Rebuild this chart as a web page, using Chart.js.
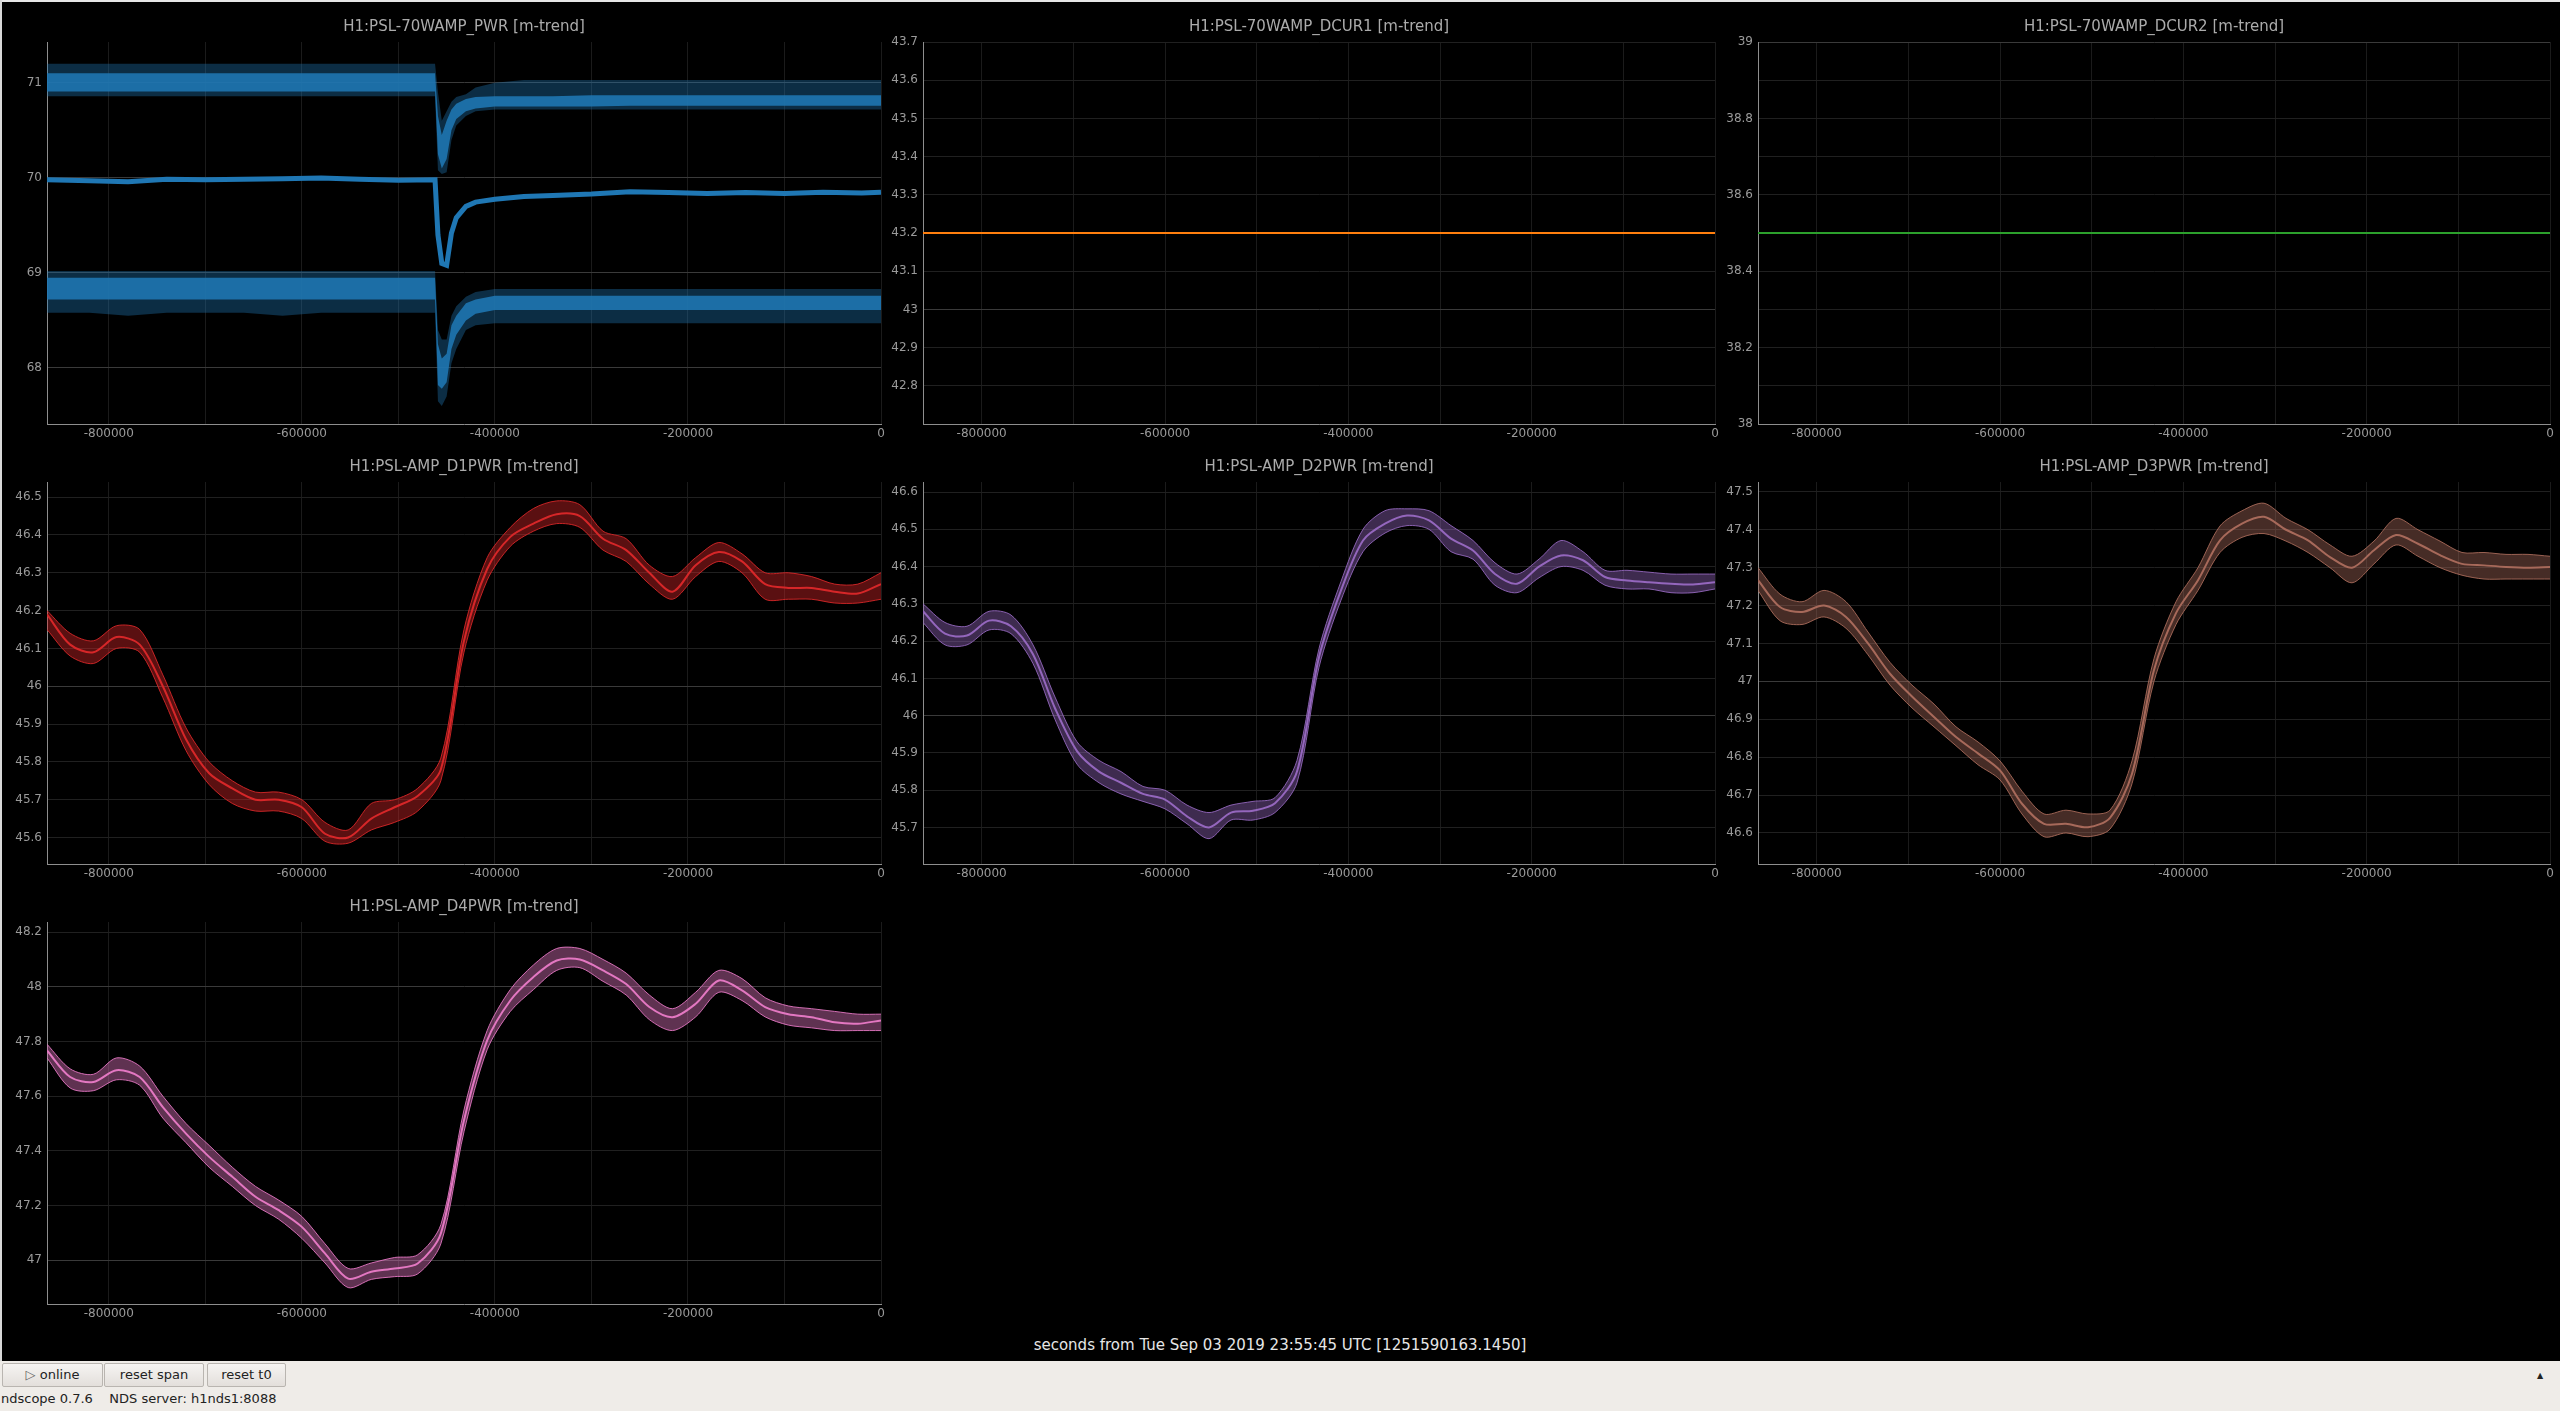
<!DOCTYPE html>
<html><head><meta charset="utf-8">
<script src="https://cdn.jsdelivr.net/npm/chart.js@4.4.1/dist/chart.umd.min.js"></script>
<style>
html,body{margin:0;padding:0;background:#000;width:2560px;height:1411px;overflow:hidden;font-family:"DejaVu Sans",sans-serif;}
#topline{position:absolute;left:0;top:0;width:2560px;height:2px;background:#e6e6e6;}
#leftline{position:absolute;left:0;top:0;width:2px;height:1361px;background:#d8d8d8;}
#xtitle{position:absolute;left:0;width:2560px;top:1336px;text-align:center;color:#e6e6e6;font-size:15px;}
#bar{position:absolute;left:0;top:1361px;width:2560px;height:50px;background:#efece8;}
.btn{position:absolute;top:2px;height:22px;border:1px solid #b9b5b0;border-radius:2px;background:linear-gradient(#f6f4f2,#e3dfdb);color:#222;font-size:13px;line-height:22px;text-align:center;}
#status{position:absolute;left:1px;top:30px;font-size:13px;color:#222;white-space:pre;}
#arrow{position:absolute;left:2537px;top:10px;font-size:8px;color:#222;}
</style></head><body>
<div id="topline"></div><div id="leftline"></div>
<div id="xtitle">seconds from Tue Sep 03 2019 23:55:45 UTC [1251590163.1450]</div>
<div id="bar">
  <div class="btn" style="left:2px;width:99px;"><span style="color:#666">▷</span> online</div>
  <div class="btn" style="left:104px;width:98px;">reset span</div>
  <div class="btn" style="left:207px;width:77px;">reset t0</div>
  <div id="status">ndscope 0.7.6    NDS server: h1nds1:8088</div>
  <div id="arrow">▲</div>
</div>
<script>
// ---------- DATA ----------
const titles = ["H1:PSL-70WAMP_PWR [m-trend]","H1:PSL-70WAMP_DCUR1 [m-trend]","H1:PSL-70WAMP_DCUR2 [m-trend]",
  "H1:PSL-AMP_D1PWR [m-trend]","H1:PSL-AMP_D2PWR [m-trend]","H1:PSL-AMP_D3PWR [m-trend]","H1:PSL-AMP_D4PWR [m-trend]"];

// x-axis ticks (grid every 100000 s, labels every 200000 s)
const xTicks = [-800000,-700000,-600000,-500000,-400000,-300000,-200000,-100000,0];
const xLabelled = [-800000,-600000,-400000,-200000,0];

// 70W amplifier power: time samples (s) and min/mean/max trend envelopes
const pwrTime = [-864000,-820000,-780000,-740000,-700000,-660000,-620000,-580000,-540000,-500000,-462000,-459000,-455000,-450000,-445000,-440000,-430000,-420000,-400000,-370000,-340000,-300000,-260000,-220000,-180000,-140000,-100000,-60000,-20000,0];
const pwrMean     = [69.98,69.97,69.96,69.985,69.98,69.985,69.99,70.0,69.985,69.975,69.98,69.4,69.1,69.08,69.42,69.58,69.70,69.745,69.775,69.805,69.815,69.83,69.855,69.845,69.835,69.845,69.835,69.85,69.84,69.85];
const pwrMaxPeak  = [71.2,71.2,71.2,71.2,71.2,71.2,71.2,71.2,71.2,71.2,71.2,70.9,70.6,70.7,70.8,70.85,70.88,70.95,71.0,71.03,71.03,71.03,71.03,71.03,71.03,71.03,71.03,71.03,71.03,71.03];
const pwrMaxHi    = [71.10,71.10,71.10,71.10,71.10,71.10,71.10,71.10,71.10,71.10,71.10,70.65,70.45,70.6,70.72,70.78,70.83,70.85,70.86,70.86,70.86,70.87,70.87,70.87,70.87,70.87,70.87,70.87,70.87,70.87];
const pwrMaxLo    = [70.91,70.91,70.91,70.91,70.91,70.91,70.91,70.91,70.91,70.91,70.91,70.25,70.1,70.2,70.5,70.62,70.70,70.73,70.75,70.75,70.75,70.75,70.76,70.76,70.76,70.76,70.76,70.76,70.76,70.76];
const pwrMaxDip   = [70.86,70.86,70.86,70.86,70.86,70.86,70.86,70.86,70.86,70.86,70.86,70.08,70.04,70.06,70.4,70.55,70.65,70.7,70.72,70.72,70.72,70.72,70.72,70.72,70.72,70.72,70.72,70.72,70.72,70.72];
const pwrMinPeak  = [69.02,69.02,69.02,69.02,69.02,69.02,69.02,69.02,69.02,69.02,69.02,68.4,68.3,68.3,68.55,68.65,68.75,68.8,68.83,68.83,68.83,68.83,68.83,68.83,68.83,68.83,68.83,68.83,68.83,68.83];
const pwrMinHi    = [68.95,68.95,68.95,68.95,68.95,68.95,68.95,68.95,68.95,68.95,68.95,68.25,68.1,68.15,68.45,68.55,68.68,68.72,68.76,68.76,68.76,68.76,68.76,68.76,68.76,68.76,68.76,68.76,68.76,68.76];
const pwrMinLo    = [68.72,68.72,68.72,68.72,68.72,68.72,68.72,68.72,68.72,68.72,68.72,67.82,67.78,67.85,68.2,68.35,68.5,68.57,68.61,68.61,68.61,68.61,68.61,68.61,68.61,68.61,68.61,68.61,68.61,68.61];
const pwrMinDip   = [68.58,68.58,68.55,68.58,68.58,68.58,68.55,68.58,68.58,68.58,68.58,67.65,67.6,67.7,68.05,68.2,68.4,68.45,68.47,68.47,68.47,68.47,68.47,68.47,68.47,68.47,68.47,68.47,68.47,68.47];

// DC currents (flat)
const dcurTime = [-864000,0];
const dcur1Values = [43.2,43.2];
const dcur2Values = [38.5,38.5];

// Diode powers: time samples (s)
const timeD = [-864000,-840000,-816000,-792000,-768000,-744000,-720000,-696000,-672000,-648000,-624000,-600000,-576000,-552000,-528000,-504000,-480000,-456000,-432000,-408000,-384000,-360000,-336000,-312000,-288000,-264000,-240000,-216000,-192000,-168000,-144000,-120000,-96000,-72000,-48000,-24000,0];

const d1Mean = [46.19,46.11,46.09,46.13,46.11,46.00,45.86,45.77,45.73,45.70,45.70,45.68,45.61,45.60,45.65,45.68,45.71,45.78,46.12,46.31,46.395,46.43,46.455,46.45,46.39,46.36,46.30,46.25,46.32,46.355,46.33,46.27,46.26,46.26,46.25,46.245,46.27];
const d1Max  = [46.20,46.14,46.12,46.16,46.15,46.03,45.89,45.80,45.75,45.72,45.72,45.70,45.64,45.62,45.69,45.70,45.73,45.81,46.15,46.34,46.42,46.47,46.49,46.48,46.41,46.39,46.32,46.29,46.34,46.38,46.35,46.30,46.30,46.29,46.27,46.27,46.30];
const d1Min  = [46.15,46.08,46.06,46.10,46.09,45.97,45.83,45.74,45.69,45.67,45.67,45.65,45.59,45.585,45.62,45.64,45.67,45.75,46.09,46.28,46.37,46.41,46.43,46.42,46.36,46.33,46.27,46.23,46.29,46.33,46.30,46.23,46.23,46.23,46.22,46.22,46.23];

const d2Mean = [46.28,46.22,46.215,46.255,46.24,46.165,46.02,45.905,45.85,45.82,45.79,45.775,45.73,45.70,45.74,45.745,45.765,45.85,46.157,46.336,46.47,46.515,46.537,46.524,46.475,46.443,46.38,46.354,46.40,46.43,46.417,46.372,46.363,46.358,46.354,46.352,46.358];
const d2Max  = [46.30,46.25,46.24,46.28,46.27,46.19,46.05,45.93,45.88,45.85,45.81,45.80,45.76,45.74,45.76,45.77,45.78,45.88,46.18,46.36,46.50,46.55,46.555,46.55,46.51,46.47,46.41,46.38,46.42,46.47,46.44,46.39,46.39,46.385,46.38,46.38,46.38];
const d2Min  = [46.25,46.19,46.19,46.23,46.22,46.14,45.99,45.87,45.82,45.79,45.77,45.75,45.71,45.67,45.72,45.72,45.74,45.82,46.13,46.31,46.44,46.49,46.51,46.50,46.44,46.42,46.35,46.33,46.37,46.40,46.39,46.35,46.34,46.34,46.33,46.33,46.34];

const d3Mean = [47.267,47.196,47.183,47.20,47.17,47.10,47.02,46.96,46.906,46.853,46.81,46.765,46.677,46.624,46.624,46.615,46.64,46.756,47.03,47.18,47.267,47.372,47.416,47.434,47.40,47.372,47.328,47.30,47.346,47.386,47.363,47.333,47.31,47.306,47.302,47.30,47.302];
const d3Max  = [47.30,47.23,47.21,47.24,47.21,47.13,47.05,46.99,46.94,46.88,46.84,46.79,46.71,46.65,46.66,46.65,46.66,46.79,47.06,47.21,47.30,47.41,47.45,47.47,47.43,47.40,47.36,47.33,47.37,47.43,47.40,47.37,47.34,47.34,47.335,47.335,47.33];
const d3Min  = [47.24,47.16,47.15,47.17,47.14,47.07,46.99,46.93,46.88,46.83,46.78,46.74,46.65,46.59,46.60,46.59,46.61,46.73,47.00,47.15,47.24,47.34,47.38,47.39,47.37,47.34,47.30,47.26,47.31,47.36,47.33,47.30,47.28,47.27,47.27,47.27,47.27];

const d4Mean = [47.767,47.67,47.652,47.695,47.67,47.56,47.463,47.378,47.305,47.232,47.183,47.122,47.025,46.933,46.958,46.97,46.988,47.098,47.512,47.804,47.95,48.036,48.096,48.10,48.06,48.01,47.926,47.889,47.938,48.023,47.987,47.926,47.90,47.889,47.87,47.865,47.877];
const d4Max  = [47.79,47.70,47.68,47.74,47.71,47.60,47.50,47.42,47.34,47.27,47.22,47.16,47.06,46.97,46.99,47.01,47.02,47.13,47.55,47.84,47.99,48.08,48.14,48.14,48.10,48.05,47.97,47.92,47.98,48.06,48.03,47.96,47.93,47.92,47.91,47.90,47.90];
const d4Min  = [47.74,47.63,47.62,47.66,47.64,47.52,47.43,47.34,47.27,47.20,47.15,47.08,46.99,46.90,46.93,46.94,46.95,47.06,47.47,47.77,47.91,47.99,48.06,48.07,48.02,47.97,47.88,47.84,47.89,47.98,47.95,47.89,47.86,47.85,47.84,47.84,47.84];

// ---------- RENDERING ----------
const FONT = '"DejaVu Sans", sans-serif';
const pts = (t, v) => t.map((x, i) => ({x: x, y: v[i]}));
const fmt = v => String(parseFloat(Number(v).toFixed(3)));

function rgba(hex, a){
  const n = parseInt(hex.slice(1), 16);
  return `rgba(${(n>>16)&255},${(n>>8)&255},${n&255},${a})`;
}

function makePanel(cfg){
  const left = cfg.colLeft, top = cfg.plotTop - 32;
  const w = cfg.plotRight + 10 - left, h = cfg.plotBottom + 24 - top;
  const c = document.createElement('canvas');
  c.width = w; c.height = h;
  c.style.cssText = `position:absolute;left:${left}px;top:${top}px;width:${w}px;height:${h}px;`;
  document.body.appendChild(c);
  const yw = cfg.plotLeft - cfg.colLeft;
  new Chart(c, {
    type: 'line',
    data: {datasets: cfg.datasets},
    options: {
      responsive: false, animation: false, devicePixelRatio: 1,
      layout: {padding: {left: 0, right: 10, top: 0, bottom: 0}},
      elements: {point: {radius: 0}},
      plugins: {
        legend: {display: false}, tooltip: {enabled: false},
        title: {display: true, text: cfg.title, fullSize: false, color: '#ababab',
          font: {family: FONT, size: 15, weight: 'normal'}, padding: {top: 8, bottom: 6}}
      },
      scales: {
        x: {
          type: 'linear', min: -864000, max: 0,
          afterFit: s => { s.height = 24; },
          afterBuildTicks: s => { s.ticks = xTicks.map(v => ({value: v})); },
          ticks: {autoSkip: false, maxRotation: 0, minRotation: 0,
            color: '#9a9a9a', font: {family: FONT, size: 12}, padding: 3,
            callback: v => xLabelled.includes(v) ? String(v) : ''},
          grid: {color: '#1b1b1b', drawTicks: false},
          border: {color: '#8e8e8e', width: 1}
        },
        y: {
          type: 'linear', min: cfg.ymin, max: cfg.ymax,
          afterFit: s => { s.width = yw; },
          ticks: {stepSize: cfg.step, includeBounds: false, autoSkip: false,
            color: '#9a9a9a', font: {family: FONT, size: 12}, padding: 5,
            callback: cfg.label || (v => fmt(v))},
          grid: {drawTicks: false,
            color: ctx => {
              const v = ctx.tick ? ctx.tick.value : 0;
              return Math.abs(v - Math.round(v)) < 1e-6 ? '#3a3a3a' : '#202020';
            }},
          border: {color: '#8e8e8e', width: 1}
        }
      }
    }
  });
}

function band(t, lo, hi, color, alpha, lineAlpha, tension){
  return [
    {data: pts(t, lo), borderColor: rgba(color, lineAlpha), borderWidth: lineAlpha > 0 ? 1 : 0, fill: false, tension: tension},
    {data: pts(t, hi), borderColor: rgba(color, lineAlpha), borderWidth: lineAlpha > 0 ? 1 : 0, fill: '-1', backgroundColor: rgba(color, alpha), tension: tension}
  ];
}

function diodePanel(t, mean, mx, mn, color){
  return [
    ...band(t, mn, mx, color, 0.42, 0.9, 0.3),
    {data: pts(t, mean), borderColor: color, borderWidth: 2, fill: false, tension: 0.3}
  ];
}

const BLUE = '#1f77b4';
const cols = [{colLeft: 0, plotLeft: 47, plotRight: 881},
              {colLeft: 881, plotLeft: 923, plotRight: 1715},
              {colLeft: 1715, plotLeft: 1758, plotRight: 2550}];
const rows = [{plotTop: 42, plotBottom: 424}, {plotTop: 482, plotBottom: 864}, {plotTop: 922, plotBottom: 1304}];

// Panel 1: PWR
makePanel(Object.assign({}, cols[0], rows[0], {
  title: titles[0], ymin: 67.41, ymax: 71.43, step: 1,
  datasets: [
    ...band(pwrTime, pwrMaxDip, pwrMaxPeak, BLUE, 0.38, 0, 0),
    ...band(pwrTime, pwrMaxLo, pwrMaxHi, BLUE, 0.88, 0, 0),
    ...band(pwrTime, pwrMinDip, pwrMinPeak, BLUE, 0.38, 0, 0),
    ...band(pwrTime, pwrMinLo, pwrMinHi, BLUE, 0.88, 0, 0),
    {data: pts(pwrTime, pwrMean), borderColor: BLUE, borderWidth: 5, fill: false, tension: 0}
  ]
}));
// Panel 2: DCUR1
makePanel(Object.assign({}, cols[1], rows[0], {
  title: titles[1], ymin: 42.7, ymax: 43.7, step: 0.1,
  label: v => v < 42.75 ? '' : fmt(v),
  datasets: [{data: pts(dcurTime, dcur1Values), borderColor: '#ff7f0e', borderWidth: 2, fill: false}]
}));
// Panel 3: DCUR2
makePanel(Object.assign({}, cols[2], rows[0], {
  title: titles[2], ymin: 38, ymax: 39, step: 0.1,
  label: v => (Math.round(v * 10) % 2 === 0) ? fmt(v) : '',
  datasets: [{data: pts(dcurTime, dcur2Values), borderColor: '#2ca02c', borderWidth: 2, fill: false}]
}));
// Diode panels
makePanel(Object.assign({}, cols[0], rows[1], {
  title: titles[3], ymin: 45.53, ymax: 46.54, step: 0.1,
  datasets: diodePanel(timeD, d1Mean, d1Max, d1Min, '#d62728')
}));
makePanel(Object.assign({}, cols[1], rows[1], {
  title: titles[4], ymin: 45.602, ymax: 46.627, step: 0.1,
  datasets: diodePanel(timeD, d2Mean, d2Max, d2Min, '#9467bd')
}));
makePanel(Object.assign({}, cols[2], rows[1], {
  title: titles[5], ymin: 46.518, ymax: 47.526, step: 0.1,
  datasets: diodePanel(timeD, d3Mean, d3Max, d3Min, '#a86a5a')
}));
makePanel(Object.assign({}, cols[0], rows[2], {
  title: titles[6], ymin: 46.84, ymax: 48.237, step: 0.2,
  datasets: diodePanel(timeD, d4Mean, d4Max, d4Min, '#e377c2')
}));
</script>
</body></html>
